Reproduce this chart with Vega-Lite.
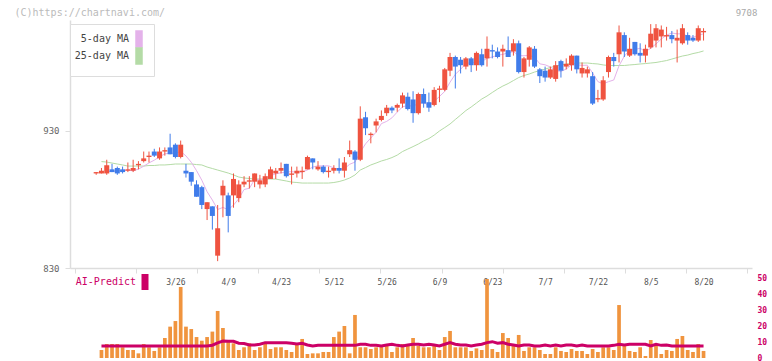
{
"$schema": "https://vega.github.io/schema/vega-lite/v6.json",
"width": 682, "height": 338,
"autosize": {"type": "none"},
"padding": {"left": 70, "top": 20, "right": 20, "bottom": 3},
"background": "white",
"config": {"view": {"stroke": null}, "axis": {"labelFont": "DejaVu Sans Mono", "titleFont": "DejaVu Sans Mono", "grid": false}, "legend": {"labelFont": "DejaVu Sans Mono"}},
"data": {"values": [
{"i":0,"o":899,"h":900,"l":898,"c":900},
{"i":1,"o":899,"h":903,"l":899,"c":901,"m25":907.7,"v":5,"a":7.5},
{"i":2,"o":899,"h":909,"l":898,"c":905,"m5":900.4,"m25":907.3,"v":8.75,"a":7.5},
{"i":3,"o":902,"h":906,"l":900,"c":900,"m5":900.4,"m25":906.6,"v":8.75,"a":7.5},
{"i":4,"o":903,"h":904,"l":898,"c":899,"m5":900.9,"m25":905.9,"v":8.75,"a":7.5},
{"i":5,"o":902,"h":904,"l":899,"c":900,"m5":901.1,"m25":905.2,"v":6.7,"a":7.5},
{"i":6,"o":901,"h":907,"l":900,"c":902,"m5":901.4,"m25":904.4,"v":5,"a":7.5},
{"i":7,"o":901,"h":909,"l":900,"c":903,"m5":900.9,"m25":904.4,"v":5,"a":7.5},
{"i":8,"o":905,"h":908,"l":902,"c":906,"m5":902.2,"m25":904.4,"v":2.9,"a":7.5},
{"i":9,"o":908,"h":915,"l":907,"c":910,"m5":904.3,"m25":904.4,"v":8.75,"a":7.5},
{"i":10,"o":911,"h":915,"l":907,"c":912,"m5":906.7,"m25":904.8,"v":6.7,"a":7.5},
{"i":11,"o":915,"h":917,"l":911,"c":912,"m5":908.7,"m25":904.8,"v":4.4,"a":7.5},
{"i":12,"o":910,"h":918,"l":909,"c":915,"m5":911.2,"m25":905.2,"v":6.7,"a":7.5},
{"i":13,"o":915,"h":918,"l":912,"c":916,"m5":913.3,"m25":905.2,"v":12.5,"a":7.5},
{"i":14,"o":918,"h":928,"l":913,"c":913,"m5":913.8,"m25":905.5,"v":19.6,"a":7.5},
{"i":15,"o":920,"h":921,"l":910,"c":911,"m5":913.7,"m25":905.9,"v":23.1,"a":7.5},
{"i":16,"o":911,"h":923,"l":910,"c":920,"m5":915.1,"m25":905.9,"v":44.4,"a":7.5},
{"i":17,"o":901,"h":906,"l":896,"c":899,"m5":911.8,"m25":905.9,"v":19.6,"a":7.5},
{"i":18,"o":900,"h":900,"l":890,"c":893,"m5":907.2,"m25":905.9,"v":18.1,"a":7.5},
{"i":19,"o":891,"h":894,"l":882,"c":882,"m5":901.1,"m25":905.5,"v":13.1,"a":7.5},
{"i":20,"o":889,"h":890,"l":873,"c":876,"m5":894.1,"m25":905.2,"v":10.8,"a":7.5},
{"i":21,"o":873,"h":878,"l":865,"c":878,"m5":885.7,"m25":903.7,"v":13.1,"a":7.5},
{"i":22,"o":875,"h":875,"l":858,"c":868,"m5":879.6,"m25":902.6,"v":16.5,"a":8},
{"i":23,"o":839,"h":876,"l":835,"c":859,"m5":872.7,"m25":901.5,"v":29.4,"a":9.5},
{"i":24,"o":883,"h":894,"l":867,"c":890,"m5":874.2,"m25":900.4,"v":18.75,"a":10.6},
{"i":25,"o":883,"h":885,"l":856,"c":868,"m5":872.6,"m25":899.3,"v":10.8,"a":10.4},
{"i":26,"o":883,"h":899,"l":874,"c":895,"m5":875.9,"m25":897.9,"v":9.2,"a":10.4},
{"i":27,"o":881,"h":894,"l":878,"c":891,"m5":880.6,"m25":896.4,"v":5,"a":9.2},
{"i":28,"o":891,"h":897,"l":889,"c":893,"m5":887.3,"m25":895.7,"v":6.7,"a":9.0},
{"i":29,"o":893,"h":897,"l":888,"c":894,"m5":888.2,"m25":895.3,"v":9.2,"a":8.1},
{"i":30,"o":893,"h":899,"l":889,"c":899,"m5":894.5,"m25":894.9,"v":5,"a":8.1},
{"i":31,"o":891,"h":898,"l":888,"c":894,"m5":894.3,"m25":894.9,"v":6.7,"a":8.6},
{"i":32,"o":891,"h":899,"l":889,"c":897,"m5":895.5,"m25":894.9,"v":9.2,"a":9.6},
{"i":33,"o":895,"h":904,"l":895,"c":902,"m5":897.4,"m25":894.9,"v":5.6,"a":9.6},
{"i":34,"o":899,"h":903,"l":895,"c":901,"m5":898.7,"m25":894.9,"v":6.7,"a":9.6},
{"i":35,"o":901,"h":907,"l":899,"c":903,"m5":899.5,"m25":894.2,"v":6.7,"a":9.6},
{"i":36,"o":906,"h":906,"l":896,"c":897,"m5":900.0,"m25":893.5,"v":5,"a":9.6},
{"i":37,"o":898,"h":904,"l":891,"c":899,"m5":900.3,"m25":892.7,"v":3.75,"a":9.2},
{"i":38,"o":899,"h":904,"l":896,"c":901,"m5":900.0,"m25":892.4,"v":9.2,"a":8.8},
{"i":39,"o":900,"h":904,"l":895,"c":901,"m5":900.0,"m25":892.0,"v":11.9,"a":9.2},
{"i":40,"o":902,"h":912,"l":902,"c":911,"m5":901.6,"m25":892.0,"v":2.5,"a":8.1},
{"i":41,"o":910,"h":910,"l":902,"c":907,"m5":903.6,"m25":892.0,"v":2.9,"a":7.5},
{"i":42,"o":902,"h":908,"l":901,"c":904,"m5":904.6,"m25":892.0,"v":2.9,"a":7.9},
{"i":43,"o":904,"h":905,"l":899,"c":900,"m5":904.5,"m25":892.0,"v":3.75,"a":7.9},
{"i":44,"o":900,"h":904,"l":896,"c":901,"m5":904.6,"m25":892.0,"v":3.75,"a":7.9},
{"i":45,"o":901,"h":905,"l":899,"c":903,"m5":903.0,"m25":892.4,"v":13.1,"a":7.9},
{"i":46,"o":903,"h":910,"l":899,"c":901,"m5":901.9,"m25":893.1,"v":16.5,"a":7.9},
{"i":47,"o":901,"h":911,"l":896,"c":907,"m5":902.5,"m25":894.2,"v":20,"a":7.9},
{"i":48,"o":913,"h":923,"l":911,"c":916,"m5":905.7,"m25":895.7,"v":2.9,"a":7.9},
{"i":49,"o":915,"h":916,"l":901,"c":909,"m5":907.3,"m25":897.9,"v":26.9,"a":7.9},
{"i":50,"o":909,"h":948,"l":908,"c":939,"m5":914.5,"m25":901.5,"v":6.7,"a":8.6},
{"i":51,"o":940,"h":944,"l":927,"c":932,"m5":920.6,"m25":903.3,"v":6.7,"a":8.6},
{"i":52,"o":927,"h":929,"l":921,"c":928,"m5":924.9,"m25":905.2,"v":5.6,"a":7.9},
{"i":53,"o":934,"h":939,"l":929,"c":937,"m5":929.1,"m25":906.6,"v":6.7,"a":7.9},
{"i":54,"o":938,"h":945,"l":937,"c":941,"m5":935.4,"m25":908.1,"v":7.5,"a":7.5},
{"i":55,"o":943,"h":949,"l":941,"c":947,"m5":937.0,"m25":909.2,"v":7.5,"a":8.1},
{"i":56,"o":947,"h":948,"l":943,"c":945,"m5":939.6,"m25":910.6,"v":3.75,"a":8.6},
{"i":57,"o":947,"h":950,"l":944,"c":949,"m5":943.8,"m25":912.4,"v":6.7,"a":7.9},
{"i":58,"o":950,"h":958,"l":947,"c":956,"m5":947.6,"m25":915.0,"v":8.75,"a":7.5},
{"i":59,"o":955,"h":958,"l":945,"c":946,"m5":948.7,"m25":916.8,"v":8.75,"a":8.1},
{"i":60,"o":953,"h":959,"l":936,"c":943,"m5":947.9,"m25":918.6,"v":12.5,"a":8.6},
{"i":61,"o":943,"h":958,"l":942,"c":957,"m5":950.3,"m25":920.5,"v":7.5,"a":8.6},
{"i":62,"o":957,"h":961,"l":947,"c":950,"m5":950.6,"m25":922.7,"v":6.7,"a":8.1},
{"i":63,"o":951,"h":958,"l":944,"c":947,"m5":948.8,"m25":924.5,"v":6.7,"a":8.6},
{"i":64,"o":949,"h":962,"l":948,"c":960,"m5":951.6,"m25":927.0,"v":7.5,"a":8.1},
{"i":65,"o":960,"h":963,"l":951,"c":961,"m5":955.2,"m25":930.0,"v":5,"a":7.5},
{"i":66,"o":960,"h":976,"l":959,"c":975,"m5":958.9,"m25":932.5,"v":13.1,"a":8.6},
{"i":67,"o":974,"h":987,"l":970,"c":984,"m5":965.6,"m25":935.1,"v":16.9,"a":9.6},
{"i":68,"o":984,"h":985,"l":961,"c":977,"m5":971.4,"m25":938.4,"v":6.7,"a":8.6},
{"i":69,"o":982,"h":984,"l":972,"c":978,"m5":975.0,"m25":941.6,"v":6.7,"a":8.1},
{"i":70,"o":977,"h":984,"l":975,"c":983,"m5":979.3,"m25":944.9,"v":6.7,"a":8.1},
{"i":71,"o":983,"h":984,"l":973,"c":978,"m5":979.8,"m25":947.5,"v":4.4,"a":7.5},
{"i":72,"o":978,"h":988,"l":974,"c":987,"m5":980.3,"m25":950.4,"v":6.0,"a":8.1},
{"i":73,"o":986,"h":990,"l":977,"c":978,"m5":980.6,"m25":953.3,"v":5,"a":8.6},
{"i":74,"o":983,"h":999,"l":977,"c":990,"m5":983.1,"m25":955.5,"v":49.4,"a":9.6},
{"i":75,"o":989,"h":993,"l":983,"c":988,"m5":984.0,"m25":958.1,"v":5.6,"a":10.2},
{"i":76,"o":988,"h":991,"l":983,"c":984,"m5":985.3,"m25":960.6,"v":3.75,"a":9.2},
{"i":77,"o":988,"h":993,"l":977,"c":990,"m5":985.9,"m25":962.8,"v":15.6,"a":9.6},
{"i":78,"o":989,"h":999,"l":984,"c":984,"m5":987.1,"m25":964.6,"v":12.5,"a":8.6},
{"i":79,"o":988,"h":997,"l":985,"c":994,"m5":987.9,"m25":966.8,"v":7.5,"a":8.1},
{"i":80,"o":994,"h":996,"l":972,"c":973,"m5":985.0,"m25":969.0,"v":14.4,"a":7.5},
{"i":81,"o":973,"h":984,"l":969,"c":983,"m5":984.9,"m25":970.5,"v":4.4,"a":8.1},
{"i":82,"o":982,"h":992,"l":977,"c":991,"m5":985.2,"m25":971.6,"v":6.7,"a":8.1},
{"i":83,"o":990,"h":992,"l":976,"c":977,"m5":983.8,"m25":973.0,"v":6.7,"a":7.5},
{"i":84,"o":975,"h":976,"l":965,"c":970,"m5":979.0,"m25":974.1,"v":5,"a":7.5},
{"i":85,"o":974,"h":977,"l":966,"c":969,"m5":978.3,"m25":975.2,"v":2.5,"a":8.1},
{"i":86,"o":969,"h":977,"l":968,"c":975,"m5":976.7,"m25":976.3,"v":2.5,"a":7.5},
{"i":87,"o":968,"h":981,"l":966,"c":978,"m5":974.1,"m25":977.4,"v":6.7,"a":8.1},
{"i":88,"o":981,"h":982,"l":969,"c":974,"m5":973.5,"m25":978.2,"v":4.4,"a":7.5},
{"i":89,"o":977,"h":983,"l":975,"c":979,"m5":975.2,"m25":978.9,"v":3.75,"a":8.1},
{"i":90,"o":978,"h":986,"l":974,"c":985,"m5":978.3,"m25":979.2,"v":5.6,"a":8.1},
{"i":91,"o":985,"h":985,"l":972,"c":975,"m5":978.3,"m25":979.6,"v":4.4,"a":7.5},
{"i":92,"o":972,"h":980,"l":969,"c":976,"m5":977.9,"m25":979.6,"v":4.4,"a":8.1},
{"i":93,"o":972,"h":977,"l":969,"c":975,"m5":978.0,"m25":979.6,"v":2.5,"a":7.5},
{"i":94,"o":970,"h":973,"l":949,"c":950,"m5":972.3,"m25":979.2,"v":5.6,"a":7.5},
{"i":95,"o":953,"h":960,"l":951,"c":954,"m5":966.0,"m25":978.9,"v":3.75,"a":7.5},
{"i":96,"o":953,"h":970,"l":952,"c":967,"m5":964.4,"m25":978.2,"v":6.7,"a":7.5},
{"i":97,"o":973,"h":985,"l":969,"c":984,"m5":966.0,"m25":977.8,"v":6.7,"a":7.5},
{"i":98,"o":984,"h":987,"l":977,"c":981,"m5":967.2,"m25":977.8,"v":5,"a":7.9},
{"i":99,"o":986,"h":1007,"l":980,"c":1002,"m5":977.6,"m25":977.8,"v":33.1,"a":8.6},
{"i":100,"o":1000,"h":1002,"l":984,"c":988,"m5":984.6,"m25":977.8,"v":7.5,"a":8.1},
{"i":101,"o":985,"h":998,"l":984,"c":990,"m5":989.1,"m25":978.2,"v":4.4,"a":8.6},
{"i":102,"o":995,"h":995,"l":985,"c":986,"m5":989.5,"m25":978.5,"v":3.75,"a":8.6},
{"i":103,"o":987,"h":994,"l":980,"c":985,"m5":990.4,"m25":978.9,"v":6.7,"a":8.6},
{"i":104,"o":985,"h":993,"l":980,"c":990,"m5":987.9,"m25":979.2,"v":1.25,"a":8.6},
{"i":105,"o":991,"h":1008,"l":990,"c":1001,"m5":990.4,"m25":979.6,"v":11.25,"a":7.5},
{"i":106,"o":996,"h":1008,"l":991,"c":1005,"m5":993.5,"m25":980.0,"v":7.5,"a":8.6},
{"i":107,"o":999,"h":1007,"l":991,"c":1004,"m5":997.1,"m25":980.7,"v":2.5,"a":7.9},
{"i":108,"o":999,"h":1006,"l":996,"c":1000,"m5":1000.0,"m25":981.4,"v":5,"a":8.1},
{"i":109,"o":1000,"h":1003,"l":994,"c":997,"m5":1001.5,"m25":982.5,"v":4.4,"a":7.5},
{"i":110,"o":996,"h":1004,"l":980,"c":998,"m5":1000.9,"m25":983.6,"v":11.9,"a":7.5},
{"i":111,"o":994,"h":1008,"l":993,"c":1005,"m5":1000.9,"m25":984.7,"v":13.75,"a":7.5},
{"i":112,"o":1000,"h":1002,"l":993,"c":996,"m5":999.2,"m25":985.4,"v":5,"a":7.5},
{"i":113,"o":998,"h":1000,"l":995,"c":996,"m5":998.3,"m25":986.5,"v":3.75,"a":7.5},
{"i":114,"o":996,"h":1007,"l":995,"c":1005,"m5":999.9,"m25":987.3,"v":8.75,"a":7.5},
{"i":115,"o":1002,"h":1005,"l":996,"c":1003,"m5":1000.9,"m25":988.4,"v":4.4,"a":7.5}
]},
"resolve": {"scale": {"y": "independent"}, "axis": {"x": "independent", "y": "independent"}},
"layer": [
  {"mark": {"type": "line", "strokeWidth": 1},
   "encoding": {
    "x": {"field": "i", "type": "quantitative", "scale": {"domain": [-4.011, 123.228], "nice": false, "zero": false},
      "axis": {"orient": "bottom", "offset": -90, "values": [-4.011, 7.556, 19.123, 30.69, 42.257, 53.825, 65.392, 76.959, 88.526, 100.093, 111.66, 123.228],
        "labels": false, "ticks": true, "tickSize": 5, "tickColor": "#dddddd", "domainColor": "#dddddd", "domainWidth": 1.5,
        "title": "(C)https://chartnavi.com/", "titleX": -56, "titleY": -256, "titleAlign": "left", "titleBaseline": "middle", "titleAngle": 0,
        "titleFontSize": 10, "titleFontWeight": "normal", "titleColor": "#bbbbbb"}},
    "y": {"field": "m25", "type": "quantitative", "scale": {"domain": [830, 1011], "range": [248, 0], "nice": false, "zero": false},
      "axis": {"orient": "left", "values": [830, 930], "tickSize": 5, "tickColor": "#dddddd", "domainColor": "#dddddd", "domainWidth": 1.5,
        "labelColor": "#666666", "labelFontSize": 9, "labelPadding": 6, "title": null}},
    "stroke": {"datum": "25-day MA", "scale": {"domain": ["5-day MA", "25-day MA"], "range": ["#E4B2EA", "#B4DBA6"]},
      "legend": {"orient": "none", "legendX": 0, "legendY": 4, "title": null, "direction": "vertical",
        "symbolType": "M-0.6,-1.6H0.6V1.6H-0.6Z", "symbolSize": 100, "symbolStrokeWidth": 1.5, "symbolStrokeColor": "#555555",
        "labelFontSize": 10, "labelColor": "#444444",
        "rowPadding": -5, "padding": 9, "strokeColor": "#dddddd", "fillColor": "#ffffff",
        "encode": {
          "symbols": {
            "enter": {"stroke": {"value": "#555555"}, "strokeWidth": {"value": 1.5}},
            "update": {"x": {"value": 60}, "fill": {"scale": "stroke", "field": "value"}, "stroke": {"value": "#555555"}, "strokeWidth": {"value": 1.5}, "opacity": {"value": 1}}},
          "labels": {"update": {"x": {"value": 50}, "align": {"value": "right"}}}}}}
   }},
  {"mark": {"type": "line", "strokeWidth": 1},
   "encoding": {
    "x": {"field": "i", "type": "quantitative", "scale": {"domain": [-4.011, 123.228], "nice": false, "zero": false}, "axis": null},
    "y": {"field": "m5", "type": "quantitative", "scale": {"domain": [830, 1011], "range": [248, 0], "nice": false, "zero": false}, "axis": null},
    "stroke": {"datum": "5-day MA"}
   }},
  {"mark": {"type": "rule", "strokeWidth": 1},
   "encoding": {
    "x": {"field": "i", "type": "quantitative", "scale": {"domain": [-4.011, 123.228], "nice": false, "zero": false}, "axis": null},
    "y": {"field": "l", "type": "quantitative", "scale": {"domain": [830, 1011], "range": [248, 0], "nice": false, "zero": false}, "axis": null},
    "y2": {"field": "h"},
    "color": {"condition": {"test": "datum.c >= datum.o", "value": "#EF5340"}, "value": "#407CEA"}
   }},
  {"mark": {"type": "bar", "size": 5},
   "encoding": {
    "x": {"field": "i", "type": "quantitative", "scale": {"domain": [-4.011, 123.228], "nice": false, "zero": false}, "axis": null},
    "y": {"field": "o", "type": "quantitative", "scale": {"domain": [830, 1011], "range": [248, 0], "nice": false, "zero": false}, "axis": null},
    "y2": {"field": "c"},
    "color": {"condition": {"test": "datum.c >= datum.o", "value": "#EF5340"}, "value": "#407CEA"}
   }},
  {"mark": {"type": "bar", "size": 3.7, "color": "#F0943E"},
   "encoding": {
    "x": {"field": "i", "type": "quantitative", "scale": {"domain": [-4.011, 123.228], "nice": false, "zero": false},
      "axis": {"orient": "top", "offset": -262, "values": [15, 25, 35, 45, 55, 65, 75, 85, 95, 105, 115],
        "labelExpr": "['3/26','4/9','4/23','5/12','5/26','6/9','6/23','7/7','7/22','8/5','8/20'][round((datum.value-15)/10)]",
        "domain": false, "ticks": false, "tickSize": 0, "labelPadding": 0, "labelBaseline": "middle", "labelAlign": "center", "labelFontSize": 8, "labelColor": "#555555",
        "labelFlush": false, "labelOverlap": false,
        "title": "9708", "titleX": 676, "titleY": -270, "titleAlign": "center", "titleBaseline": "middle", "titleAngle": 0,
        "titleColor": "#aaaaaa", "titleFontSize": 9, "titleFontWeight": "normal"}},
    "y": {"field": "v", "type": "quantitative", "scale": {"domain": [0, 50], "range": [338, 258], "nice": false},
      "axis": {"orient": "right", "values": [0, 10, 20, 30, 40, 50], "domain": false, "ticks": false, "labelColor": "#CC0066",
        "labelFontSize": 8, "labelFontWeight": "bold", "labelPadding": 5, "title": null}}
   }},
  {"mark": {"type": "line", "strokeWidth": 3},
   "encoding": {
    "x": {"field": "i", "type": "quantitative", "scale": {"domain": [-4.011, 123.228], "nice": false, "zero": false}, "axis": null},
    "y": {"field": "a", "type": "quantitative", "scale": {"domain": [0, 50], "range": [338, 258], "nice": false}, "axis": null},
    "color": {"datum": "AI-Predict", "scale": {"domain": ["AI-Predict"], "range": ["#CC0066"]},
      "legend": {"orient": "none", "legendX": 5, "legendY": 257, "title": null,
        "symbolType": "M-0.7,-1.6H0.7V1.6H-0.7Z", "symbolSize": 100, "symbolStrokeWidth": 1,
        "labelFontSize": 10, "labelColor": "#CC0066", "padding": 0,
        "encode": {
          "symbols": {"update": {"x": {"value": 70}, "fill": {"value": "#CC0066"}, "stroke": {"value": "#CC0066"}, "strokeWidth": {"value": 0}, "opacity": {"value": 1}}},
          "labels": {"update": {"x": {"value": 61}, "align": {"value": "right"}}}}}}
   }}
]
}
